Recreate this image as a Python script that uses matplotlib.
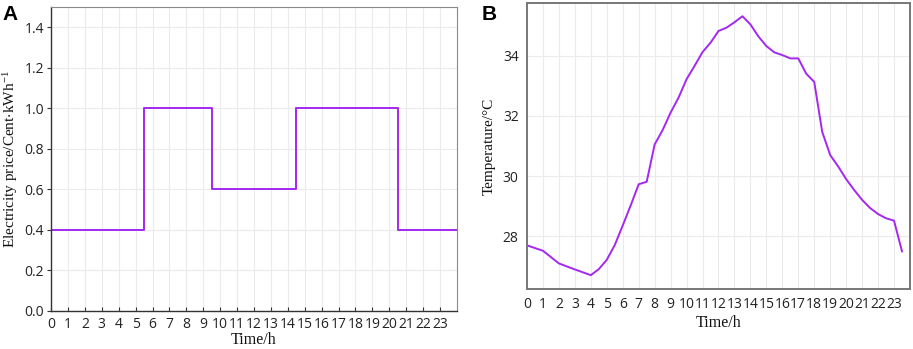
import matplotlib
matplotlib.use("Agg")
import matplotlib.pyplot as plt
import numpy as np

# Panel A: time-of-use electricity price
price_edges = [0, 5.5, 9.5, 14.5, 20.5, 24]
price_values = [0.4, 1.0, 0.6, 1.0, 0.4]

# Panel B: temperature
temp_hours = [0, 1, 2, 3, 4, 4.5, 5, 5.5, 6, 6.5, 7, 7.5, 8, 8.5, 9, 9.5, 10, 10.5,
              11, 11.5, 12, 12.5, 13, 13.5, 14, 14.5, 15, 15.5, 16, 16.5, 17, 17.5,
              18, 18.5, 19, 19.5, 20, 20.5, 21, 21.5, 22, 22.5, 23, 23.5]
temp_values = [27.70, 27.52, 27.10, 26.90, 26.71, 26.91, 27.22, 27.71, 28.36, 29.03,
               29.73, 29.81, 31.05, 31.53, 32.11, 32.61, 33.22, 33.66, 34.12, 34.43,
               34.82, 34.93, 35.11, 35.31, 35.04, 34.64, 34.32, 34.11, 34.02, 33.91,
               33.91, 33.40, 33.13, 31.47, 30.70, 30.32, 29.90, 29.54, 29.21, 28.94,
               28.74, 28.60, 28.52, 27.50]

hour_ticks = list(range(24))

plt.rcParams['mathtext.fontset'] = 'stix'
LINE = '#A428F0'
TICKFONT = 'Open Sans'
LABELFONT = 'Liberation Serif'
GRID = '#ebebeb'

fig = plt.figure(figsize=(9.13, 3.49), dpi=100)

# ---------- Panel A ----------
axA = fig.add_axes([0.0559, 0.1089, 0.4446, 0.8711])
x_step = price_edges
y_step = price_values + [price_values[-1]]
axA.step(x_step, y_step, where='post', color=LINE, lw=1.4)
axA.set_xlim(0, 24)
axA.set_ylim(0, 1.5)
axA.set_xticks(hour_ticks)
axA.set_yticks([0.0, 0.2, 0.4, 0.6, 0.8, 1.0, 1.2, 1.4])
axA.set_yticklabels(['0.0', '0.2', '0.4', '0.6', '0.8', '1.0', '1.2', '1.4'])
axA.grid(True, color=GRID, lw=0.8)
axA.set_axisbelow(True)
for s in ['left', 'bottom']:
    axA.spines[s].set_color('#333333')
    axA.spines[s].set_linewidth(1.0)
for s in ['top', 'right']:
    axA.spines[s].set_color('#8a8a8a')
    axA.spines[s].set_linewidth(0.8)
axA.tick_params(axis='y', direction='out', length=3, width=0.8, color='#333333',
                labelsize=10, labelcolor='#222222', pad=2)
axA.tick_params(axis='x', direction='in', length=3, width=0.8, color='#333333',
                labelsize=10, labelcolor='#222222', pad=4)
for lab in axA.get_xticklabels() + axA.get_yticklabels():
    lab.set_fontfamily(TICKFONT)
axA.set_xlabel('Time/h', fontfamily=LABELFONT, fontsize=11.5, labelpad=0, color='#111111')
axA.set_ylabel(r'Electricity price/Cent$\cdot$kWh$^{\mathregular{-1}}$',
               fontfamily=LABELFONT, fontsize=11, labelpad=3, color='#111111')
fig.text(0.003, 0.985, 'A', fontfamily='Liberation Sans', fontweight='bold',
         fontsize=15, va='top', ha='left')

# ---------- Panel B ----------
axB = fig.add_axes([0.5772, 0.1719, 0.4195, 0.8195])
axB.plot(temp_hours, temp_values, color=LINE, lw=1.4)
axB.set_xlim(0, 24)
axB.set_ylim(26.25, 35.75)
axB.set_xticks(hour_ticks)
axB.set_yticks([28, 30, 32, 34])
axB.grid(True, color=GRID, lw=0.8)
axB.set_axisbelow(True)
for s in axB.spines.values():
    s.set_color('#777777')
    s.set_linewidth(1.4)
axB.tick_params(axis='both', direction='out', length=0, labelsize=10,
                labelcolor='#222222', pad=6)
for lab in axB.get_xticklabels() + axB.get_yticklabels():
    lab.set_fontfamily(TICKFONT)
axB.set_xlabel('Time/h', fontfamily=LABELFONT, fontsize=11.5, labelpad=2, color='#111111')
axB.set_ylabel('Temperature/°C', fontfamily=LABELFONT, fontsize=11, labelpad=5,
               color='#111111')
fig.text(0.527, 0.985, 'B', fontfamily='Liberation Sans', fontweight='bold',
         fontsize=15, va='top', ha='left')

fig.savefig('out.png', dpi=100)
